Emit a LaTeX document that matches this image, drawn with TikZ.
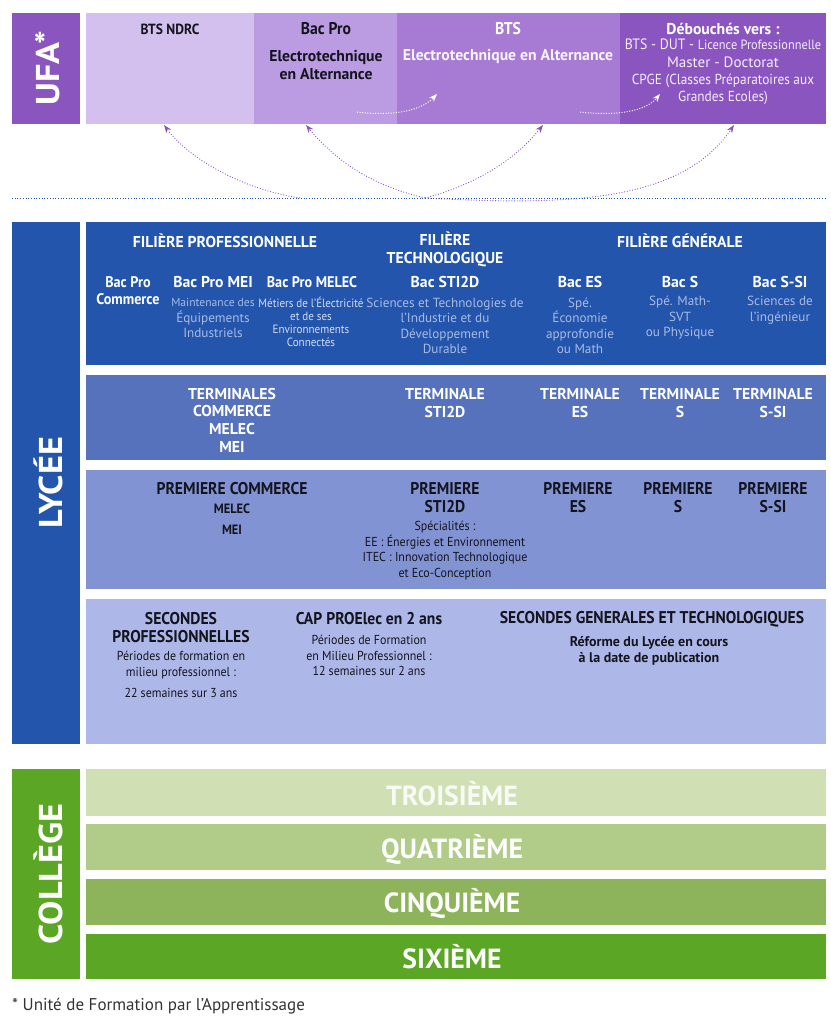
\documentclass[tikz,border=0pt]{standalone}
\usepackage{fontspec}
\usetikzlibrary{arrows.meta}
\setmainfont{PT Sans}
\newfontfamily\din{PT Sans}[FakeStretch=1.0]
\newfontfamily\dinN{PT Sans}[FakeStretch=0.92]
\newfontfamily\dinW{PT Sans}[FakeStretch=1.1]
\definecolor{ufaA}{HTML}{8A55BE}
\definecolor{ufaB}{HTML}{A77BD4}
\definecolor{ufaC}{HTML}{BB9BE2}
\definecolor{ufaD}{HTML}{D4C0EE}
\definecolor{lycA}{HTML}{2355AC}
\definecolor{lycB}{HTML}{5672BC}
\definecolor{lycC}{HTML}{8293D3}
\definecolor{lycD}{HTML}{AEB8E8}
\definecolor{colA}{HTML}{5BA624}
\definecolor{colB}{HTML}{8DB35B}
\definecolor{colC}{HTML}{B0CC88}
\definecolor{colD}{HTML}{D0E0B4}
\definecolor{pale}{HTML}{A9BBE2}
\definecolor{inkd}{HTML}{14141E}
\definecolor{dotblue}{HTML}{2355AC}
\tikzset{
  panel/.style={anchor=north west,inner sep=0pt,outer sep=0pt,draw=none},
  side/.style={panel,minimum width=68pt,fill=#1},
  sidetxt/.style={text=white,rotate=90,inner sep=0pt,font=\dinW\bfseries\fontsize{33}{33}\selectfont},
  head/.style={align=center,inner sep=0pt,text=white,font=\din\bfseries\fontsize{15.7}{17.6}\selectfont},
  headC/.style={align=center,inner sep=0pt,text=white,font=\dinN\bfseries\fontsize{15.4}{17.6}\selectfont},
  headN/.style={align=center,inner sep=0pt,text=white,font=\dinN\bfseries\fontsize{17}{17.6}\selectfont},
  body/.style={align=center,inner sep=0pt,text=pale,font=\din\fontsize{13.2}{15.5}\selectfont},
  bodyN/.style={align=center,inner sep=0pt,text=inkd,font=\dinN\fontsize{13}{15.5}\selectfont},
  year/.style={inner sep=0pt,text=white,font=\din\bfseries\fontsize{27.7}{27.7}\selectfont},
  arc/.style={ufaA,line width=0.9pt,dash pattern=on 0.9pt off 1.8pt,-{Stealth[length=8pt,width=6pt]}},
  arcw/.style={white,line width=1pt,dash pattern=on 1pt off 1.6pt,-{Stealth[length=8pt,width=6pt]}}
}
\begin{document}
\begin{tikzpicture}[x=1pt,y=-1pt]
\useasboundingbox (0,0) rectangle (830,1024);
% UFA
\node[side=ufaA,minimum height=111pt] (sufa) at (12,13) {};
\node[panel,fill=ufaD,minimum width=168pt,minimum height=111pt] (u1) at (86,13) {};
\node[panel,fill=ufaC,minimum width=143pt,minimum height=111pt] (u2) at (254,13) {};
\node[panel,fill=ufaB,minimum width=223pt,minimum height=111pt] (u3) at (397,13) {};
\node[panel,fill=ufaA,minimum width=206pt,minimum height=111pt] (u4) at (620,13) {};
\node[sidetxt] (tufa) at (48,68) {UFA*};
\node[headN,text=inkd,font=\dinN\bfseries\fontsize{14.7}{16}\selectfont] (t1) at (170,29) {BTS NDRC};
\node[headN,text=inkd] (t2) at (326,29) {Bac Pro};
\node[head,text=inkd] (t3) at (326,65) {Electrotechnique\\en Alternance};
\node[headN] (t4) at (508,29) {BTS};
\node[head,text=white!92!ufaB] (t5) at (508,56) {Electrotechnique en Alternance};
\node[head] (t6) at (723,29) {Débouchés vers :};
\node[bodyN,text=white!90!ufaA,font=\dinN\fontsize{14.5}{17.3}\selectfont] (t7) at (723,72) {{\fontsize{15}{17.3}\selectfont BTS - DUT - }{\fontsize{13.4}{17.3}\selectfont Licence Professionnelle}\\{\din\fontsize{15}{17.3}\selectfont Master - Doctorat}\\CPGE (Classes Préparatoires aux\\Grandes Ecoles)};
% connectors
\coordinate (hubA) at (300,198);
\coordinate (hubB) at (425,198);
\coordinate (tipA) at (164,125);
\coordinate (tipB) at (306,125);
\coordinate (tipC) at (543,125);
\coordinate (tipD) at (734,125);
\coordinate (sa) at (357,112);
\coordinate (ea) at (437,94);
\coordinate (sb) at (580,112);
\coordinate (eb) at (660,94);
\draw[arc] (hubA) .. controls (245,190) and (190,160) .. (tipA);
\draw[arc] (hubB) .. controls (370,185) and (335,160) .. (tipB);
\draw[arc] (hubB) .. controls (475,185) and (515,160) .. (tipC);
\draw[arc] (hubB) .. controls (560,205) and (680,205) .. (tipD);
\draw[arcw] (sa) .. controls (390,116) and (420,112) .. (ea);
\draw[arcw] (sb) .. controls (615,116) and (645,112) .. (eb);
\coordinate (dl) at (12,198);
\coordinate (dr) at (826,198);
\draw[dotblue,line width=0.9pt,dash pattern=on 0.9pt off 1.8pt] (dl) -- (dr);
% Lycee
\node[side=lycA,minimum height=522pt] (slyc) at (12,222) {};
\node[panel,fill=lycA,minimum width=740pt,minimum height=143pt] (l1) at (86,222) {};
\node[panel,fill=lycB,minimum width=740pt,minimum height=85pt] (l2) at (86,375) {};
\node[panel,fill=lycC,minimum width=740pt,minimum height=119pt] (l3) at (86,470) {};
\node[panel,fill=lycD,minimum width=740pt,minimum height=145pt] (l4) at (86,599) {};
\node[sidetxt] (tlyc) at (48,483) {LYCÉE};
\node[head] (f1) at (225,241) {FILIÈRE PROFESSIONNELLE};
\node[head] (f2) at (445,249.5) {FILIÈRE\\TECHNOLOGIQUE};
\node[head] (f3) at (680,241) {FILIÈRE GÉNÉRALE};
\node[headC] (b1) at (128,290.5) {Bac Pro\\Commerce};
\node[head] (b2) at (213,282) {Bac Pro MEI};
\node[headC] (b3) at (312,282) {Bac Pro MELEC};
\node[head] (b4) at (445,282) {Bac STI2D};
\node[head] (b5) at (580,282) {Bac ES};
\node[head] (b6) at (680,282) {Bac S};
\node[head] (b7) at (780,282) {Bac S-SI};
\node[body] (d2) at (213,318) {{\fontsize{11.6}{15.5}\selectfont Maintenance des}\\Équipements\\Industriels};
\node[bodyN,text=white!80!lycA,font=\dinN\fontsize{12}{13}\selectfont] (d3) at (311,322) {Métiers de l’Électricité\\et de ses\\Environnements\\Connectés};
\node[body] (d4) at (445,326) {Sciences et Technologies de\\l’Industrie et du\\Développement\\Durable};
\node[body] (d5) at (580,326) {Spé.\\Économie\\approfondie\\ou Math};
\node[body] (d6) at (680,318) {Spé. Math-\\SVT\\ou Physique};
\node[body] (d7) at (780,310) {Sciences de\\l’ingénieur};
\node[head] (r1) at (232,420) {TERMINALES\\COMMERCE\\MELEC\\MEI};
\node[head] (r2) at (445,403) {TERMINALE\\STI2D};
\node[head] (r3) at (580,403) {TERMINALE\\ES};
\node[head] (r4) at (680,403) {TERMINALE\\S};
\node[head] (r5) at (773,403) {TERMINALE\\S-SI};
\node[headN,text=inkd] (p1) at (232,489) {PREMIERE COMMERCE};
\node[headN,text=inkd,font=\dinN\bfseries\fontsize{13.5}{20.5}\selectfont] (p1b) at (232,519) {MELEC\\MEI};
\node[headN,text=inkd] (p2) at (445,497.5) {PREMIERE\\STI2D};
\node[headN,text=inkd] (p3) at (578,497.5) {PREMIERE\\ES};
\node[headN,text=inkd] (p4) at (678,497.5) {PREMIERE\\S};
\node[headN,text=inkd] (p5) at (773,497.5) {PREMIERE\\S-SI};
\node[bodyN] (p6) at (445,550.5) {Spécialités :\\EE : Énergies et Environnement\\ITEC : Innovation Technologique\\et Eco-Conception};
\node[headN,text=inkd] (s1) at (181,627.5) {SECONDES\\PROFESSIONNELLES};
\node[bodyN] (s1b) at (181,665) {Périodes de formation en\\milieu professionnel :};
\node[bodyN] (s1c) at (181,693) {22 semaines sur 3 ans};
\node[headN,text=inkd] (s2) at (369,619) {CAP PROElec en 2 ans};
\node[bodyN] (s2b) at (369,655.5) {Périodes de Formation\\en Milieu Professionnel :\\12 semaines sur 2 ans};
\node[headN,text=inkd] (s3) at (652,619) {SECONDES GENERALES ET TECHNOLOGIQUES};
\node[bodyN,font=\din\bfseries\fontsize{14}{15.5}\selectfont] (s3b) at (649,651) {Réforme du Lycée en cours\\à la date de publication};
% College
\node[side=colA,minimum height=210pt] (scol) at (12,769) {};
\node[panel,fill=colD,minimum width=740pt,minimum height=47pt] (c1) at (86,769) {};
\node[panel,fill=colC,minimum width=740pt,minimum height=46pt] (c2) at (86,824) {};
\node[panel,fill=colB,minimum width=740pt,minimum height=46pt] (c3) at (86,879) {};
\node[panel,fill=colA,minimum width=740pt,minimum height=45pt] (c4) at (86,934) {};
\node[sidetxt] (tcol) at (48,874) {COLLÈGE};
\node[year,text=white!85!colD] (y1) at (452,794) {TROISIÈME};
\node[year] (y2) at (452,849.5) {QUATRIÈME};
\node[year] (y3) at (452,903.5) {CINQUIÈME};
\node[year] (y4) at (452,957) {SIXIÈME};
\node[anchor=west,inner sep=0pt,text=black!80,font=\din\fontsize{17}{17}\selectfont] (foot) at (12,1006) {* Unité de Formation par l’Apprentissage};
\end{tikzpicture}
\end{document}
